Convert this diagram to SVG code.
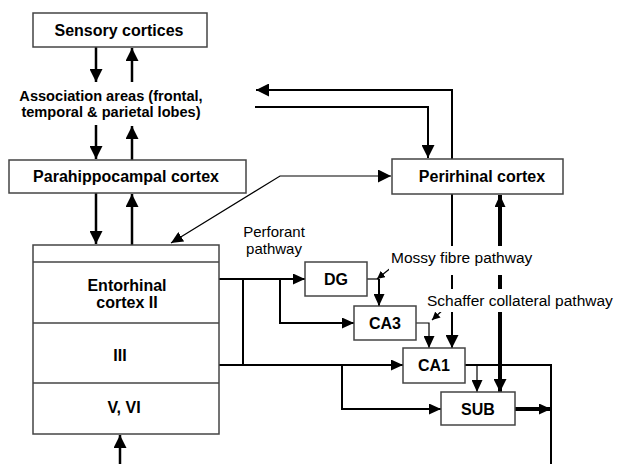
<svg xmlns="http://www.w3.org/2000/svg" width="620" height="464" viewBox="0 0 620 464">
<style>
.box{fill:#fff;stroke:#444;stroke-width:1.5}
.b{font-family:"Liberation Sans",Arial,sans-serif;font-weight:bold;font-size:16px;fill:#000;text-anchor:middle}
.n{font-family:"Liberation Sans",Arial,sans-serif;font-size:15.5px;fill:#000}
.c{fill:none;stroke:#000;stroke-linejoin:miter}
.w1{stroke-width:1.2}
.w2{stroke-width:2}
.w25{stroke-width:2.5}
.w4{stroke-width:4}
</style>
<defs>
<marker id="big" markerUnits="userSpaceOnUse" markerWidth="13" markerHeight="13" refX="13" refY="6.5" orient="auto-start-reverse"><path d="M0,0 L13,6.5 L0,13 z" fill="#000"/></marker>
<marker id="med" markerUnits="userSpaceOnUse" markerWidth="12" markerHeight="11" refX="12" refY="5.5" orient="auto-start-reverse"><path d="M0,0 L12,5.5 L0,11 z" fill="#000"/></marker>
<marker id="sm" markerUnits="userSpaceOnUse" markerWidth="8" markerHeight="8" refX="8" refY="4" orient="auto-start-reverse"><path d="M0,0 L8,4 L0,8 z" fill="#000"/></marker>
</defs>
<rect width="620" height="464" fill="#fff"/>

<g id="connectors">
<line class="c w25" x1="96" y1="47" x2="96" y2="82" marker-end="url(#big)"/>
<line class="c w25" x1="132" y1="82" x2="132" y2="48" marker-end="url(#big)"/>
<line class="c w25" x1="96" y1="125" x2="96" y2="159" marker-end="url(#big)"/>
<line class="c w25" x1="132" y1="160" x2="132" y2="126" marker-end="url(#big)"/>
<line class="c w25" x1="96" y1="193" x2="96" y2="244" marker-end="url(#big)"/>
<line class="c w25" x1="132" y1="245" x2="132" y2="194" marker-end="url(#big)"/>
<line class="c w25" x1="120" y1="464" x2="120" y2="435" marker-end="url(#big)"/>
<polyline class="c w2" points="255,107 428,107 428,158" marker-end="url(#big)"/>
<polyline class="c w2" points="452,159 452,90 256,90" marker-end="url(#big)"/>
<polyline class="c w1" points="171,243 280,176 391,176" marker-start="url(#med)" marker-end="url(#big)"/>
<line class="c w2" x1="452" y1="194" x2="452" y2="348" marker-end="url(#big)"/>
<line class="c w4" x1="500" y1="195" x2="500" y2="392" marker-start="url(#med)" marker-end="url(#big)"/>
<line class="c w2" x1="219" y1="279" x2="305" y2="279" marker-end="url(#med)"/>
<line class="c w2" x1="243" y1="279" x2="243" y2="365"/>
<polyline class="c w2" points="280,279 280,323 354,323" marker-end="url(#med)"/>
<line class="c w2" x1="219" y1="365" x2="403" y2="365" marker-end="url(#med)"/>
<polyline class="c w2" points="342,365 342,409 441,409" marker-end="url(#med)"/>
<polyline class="c w1" points="367,279 379,279"/>
<line class="c w2" x1="379" y1="279" x2="379" y2="306" marker-end="url(#med)"/>
<line class="c w1" x1="392" y1="267" x2="377" y2="279" marker-end="url(#sm)"/>
<polyline class="c w1" points="416,323 429,323 429,348" marker-end="url(#med)"/>
<line class="c w1" x1="446" y1="307" x2="432" y2="320" marker-end="url(#sm)"/>
<polyline class="c w2" points="465,365 551,365 551,464"/>
<line class="c w1" x1="477" y1="365" x2="477" y2="392" marker-end="url(#med)"/>
<line class="c w4" x1="515" y1="409" x2="551" y2="409" marker-end="url(#med)"/>
</g>

<g id="labels">
<rect x="389" y="246" width="148" height="29" fill="#fff"/>
<text class="n" x="391" y="263">Mossy fibre pathway</text>
<rect x="425" y="289" width="194" height="23" fill="#fff"/>
<text class="n" x="427" y="306">Schaffer collateral pathway</text>
<text class="n" x="274" y="237" text-anchor="middle" style="font-size:15px">Perforant</text>
<text class="n" x="274" y="254" text-anchor="middle" style="font-size:15px">pathway</text>
</g>

<g id="sensory">
<rect class="box" x="33" y="13" width="174" height="34"/>
<text class="b" x="119" y="36">Sensory cortices</text>
</g>
<g id="association">
<text class="b" x="111" y="101" style="font-size:14.6px">Association areas (frontal,</text>
<text class="b" x="111" y="117" style="font-size:14.6px">temporal &amp; parietal lobes)</text>
</g>
<g id="parahippocampal">
<rect class="box" x="9" y="160" width="237" height="33"/>
<text class="b" x="126" y="182">Parahippocampal cortex</text>
</g>
<g id="perirhinal">
<rect class="box" x="392" y="159" width="171" height="35"/>
<text class="b" x="482" y="182">Perirhinal cortex</text>
</g>
<g id="entorhinal">
<rect class="box" x="33" y="245" width="186" height="189"/>
<line class="box" x1="33" y1="262" x2="219" y2="262"/>
<line class="box" x1="33" y1="323" x2="219" y2="323"/>
<line class="box" x1="33" y1="383" x2="219" y2="383"/>
<text class="b" x="127" y="291">Entorhinal</text>
<text class="b" x="127" y="308">cortex II</text>
<text class="b" x="120" y="361">III</text>
<text class="b" x="124" y="413">V, VI</text>
</g>
<g id="dg">
<rect class="box" x="305" y="262" width="62" height="34"/>
<text class="b" x="336" y="285">DG</text>
</g>
<g id="ca3">
<rect class="box" x="354" y="306" width="62" height="34"/>
<text class="b" x="385" y="329">CA3</text>
</g>
<g id="ca1">
<rect class="box" x="403" y="348" width="62" height="35"/>
<text class="b" x="434" y="371">CA1</text>
</g>
<g id="sub">
<rect class="box" x="441" y="392" width="74" height="33"/>
<text class="b" x="478" y="415">SUB</text>
</g>
</svg>
